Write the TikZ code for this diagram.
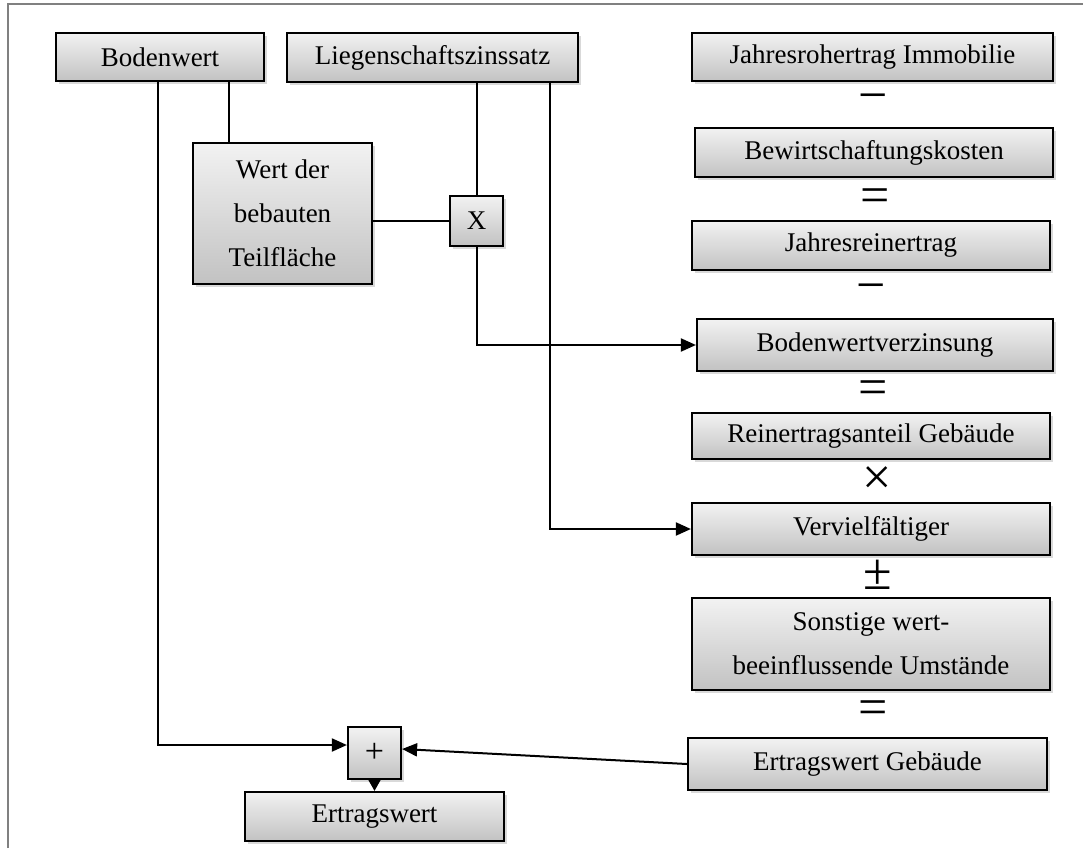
\documentclass[tikz,border=0pt]{standalone}
\usepackage{fontspec}
\setmainfont{Liberation Serif}
\usetikzlibrary{arrows.meta,shadows}
\begin{document}
\begin{tikzpicture}[x=1pt,y=-1pt,
  box/.style={draw=black, line width=2.2pt, top color=gray!10, bottom color=gray!48,
    drop shadow={shadow xshift=3pt,shadow yshift=-3pt,opacity=0.3},
    inner sep=0pt, font=\fontsize{27}{44}\selectfont, align=center},
  opsym/.style={font=\fontsize{52}{52}\selectfont, inner sep=0pt},
  conn/.style={line width=2pt},
  arr/.style={conn, -{Triangle[length=15pt,width=13pt]}},
  frameline/.style={draw=gray, line width=1.8pt}]
\useasboundingbox (0,0) rectangle (1083,848);
\coordinate (fa) at (8,848);
\coordinate (fb) at (8,4);
\coordinate (fc) at (1083,4);
\draw[frameline] (fa) -- (fb) -- (fc);

% left / middle boxes
\node[box, minimum width=208pt, minimum height=48pt] (bw) at (160,57) {Bodenwert};
\node[box, minimum width=291pt, minimum height=49pt] (lz) at (432.5,57.5) {Liegenschaftszinssatz};
\node[box, minimum width=179pt, minimum height=141pt] (wd) at (282.5,213.5) {Wert der\\bebauten\\Teilfläche};
\node[box, minimum width=53pt, minimum height=50pt] (xb) at (476.5,221) {X};
\node[box, minimum width=53pt, minimum height=52pt, font=\fontsize{34}{34}\selectfont] (pl) at (374.5,753) {+};
\node[box, minimum width=259pt, minimum height=49pt] (ew) at (374.5,816.5) {Ertragswert};

% right column
\node[box, minimum width=361pt, minimum height=48pt] (jr) at (872.5,57) {Jahresrohertrag Immobilie};
\node[opsym] (o1) at (873,103) {−};
\node[box, minimum width=358pt, minimum height=49pt] (bk) at (874,152.5) {Bewirtschaftungskosten};
\node[opsym] (o2) at (875,201) {=};
\node[box, minimum width=358pt, minimum height=49pt] (jre) at (871,245.5) {Jahresreinertrag};
\node[opsym] (o3) at (871,293) {−};
\node[box, minimum width=356pt, minimum height=52pt] (bwv) at (875,345) {Bodenwertverzinsung};
\node[opsym] (o4) at (873,393) {=};
\node[box, minimum width=358pt, minimum height=46pt] (rag) at (871,436) {Reinertragsanteil Gebäude};
\node[opsym] (o5) at (877,481) {×};
\node[box, minimum width=358pt, minimum height=52pt] (vv) at (871,529) {Vervielfältiger};
\node[opsym] (o6) at (878,575) {±};
\node[box, minimum width=358pt, minimum height=92pt] (sw) at (871,644) {Sonstige wert-\\beeinflussende Umstände};
\node[opsym] (o7) at (873,713) {=};
\node[box, minimum width=359pt, minimum height=52pt] (eg) at (867.5,764) {Ertragswert Gebäude};

% connectors
\draw[arr] ([xshift=-2pt]bw.south) |- ([yshift=8pt]pl.west);
\draw[conn] ([xshift=69pt]bw.south) -- ([xshift=69pt]bw.south |- wd.north);
\draw[conn] (wd.east |- xb.west) -- (xb.west);
\draw[conn] (xb.north |- lz.south) -- (xb.north);
\draw[arr] (xb.south) |- (bwv.west);
\draw[arr] ([xshift=117.5pt]lz.south) |- (vv.west);
\draw[arr] (eg.west) -- ([yshift=4pt]pl.east);
\draw[conn, -{Triangle[length=12pt,width=13pt]}] (pl.south) -- (ew.north);
\end{tikzpicture}
\end{document}
